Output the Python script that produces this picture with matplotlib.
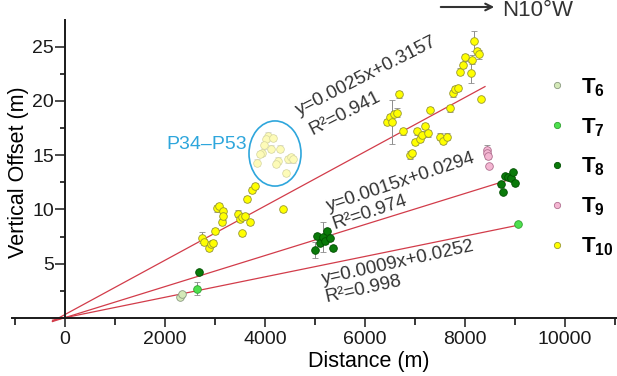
import numpy as np
import matplotlib.pyplot as plt
from matplotlib.lines import Line2D
from matplotlib.patches import Ellipse
from matplotlib.ticker import MultipleLocator

plt.rcParams['font.family'] = ['Liberation Sans', 'DejaVu Sans']
plt.rcParams['mathtext.fontset'] = 'custom'
plt.rcParams['mathtext.rm'] = 'Liberation Sans'
plt.rcParams['mathtext.bf'] = 'Liberation Sans:bold'

# datos: distancia (m), desnivel (m), error (m)
t6_x = [2300, 2340]
t6_y = [1.93, 2.2]
t6_e = [0.15, 0.15]

t7_x = [2640, 9060]
t7_y = [2.67, 8.66]
t7_e = [0.6, 0.2]

t8_x = [2680, 5000, 5040, 5100, 5160, 5200, 5240, 5300, 5360,
        8720, 8760, 8800, 8860, 8920, 8960, 9000]
t8_y = [4.2, 6.26, 7.55, 6.9, 7.45, 7.1, 8.0, 7.4, 6.45,
        12.3, 11.6, 13.1, 13.0, 12.9, 13.4, 12.4]
t8_e = [0.2, 0.7, 0.3, 0.3, 1.4, 0.3, 0.3, 0.3, 0.3,
        0.2, 0.2, 0.2, 0.2, 0.2, 0.2, 0.2]

t9_x = [8430, 8440, 8450, 8470]
t9_y = [15.5, 15.2, 14.9, 14.0]
t9_e = [0.4, 0.3, 0.3, 0.2]

t10_x = [2740, 2780, 2880, 2910, 2960, 3000, 3040, 3080, 3140, 3150, 3160,
         3460, 3500, 3540, 3540, 3600, 3640, 3700, 3740, 3800, 4360,
         6440, 6500, 6540, 6580, 6640, 6680, 6760, 6900, 6940, 7000, 7040,
         7100, 7140, 7200, 7260, 7300, 7500, 7560, 7640, 7700, 7760, 7800,
         7860, 7900, 7960, 8000, 8120, 8140, 8180, 8240, 8280, 8320]
t10_y = [7.4, 7.0, 6.45, 6.8, 6.9, 8.0, 10.1, 10.3, 8.85, 9.85, 9.35,
         9.6, 9.1, 9.3, 7.8, 9.4, 10.96, 8.85, 11.8, 12.15, 10.0,
         18.05, 18.5, 18.05, 18.8, 18.9, 20.6, 17.2, 15.0, 15.2, 16.2, 17.2,
         16.5, 16.9, 17.7, 17.0, 19.2, 16.7, 16.3, 16.7, 19.3, 20.7, 21.1,
         21.2, 22.7, 23.3, 24.0, 22.6, 23.8, 25.5, 24.6, 24.3, 20.2]
t10_e = [0.5, 0.3, 0.3, 0.25, 0.25, 0.3, 0.3, 0.3, 0.3, 0.3, 0.3,
         0.3, 0.3, 0.3, 0.25, 0.3, 0.25, 0.3, 0.3, 0.3, 0.2,
         0.3, 0.3, 2.0, 0.3, 0.4, 0.3, 0.3, 0.4, 0.3, 0.3, 0.3,
         0.3, 0.3, 0.3, 0.3, 0.2, 0.3, 0.3, 0.3, 0.3, 0.3, 0.3,
         0.3, 0.3, 0.3, 0.3, 1.0, 0.4, 0.9, 0.3, 0.4, 0.2]

# P34-P53 (dentro de la elipse)
p_x = [4060, 4020, 4160, 3980, 4120, 4300, 3940, 3900, 3840, 4260, 4220,
       4460, 4520, 4560, 4420]
p_y = [16.8, 16.5, 16.6, 15.9, 15.6, 15.6, 15.2, 15.1, 14.3, 14.5, 14.2,
       14.6, 14.8, 14.6, 13.35]
p_e = [0.3] * 15

# rectas ajustadas: pendiente, ordenada, x final
rectas_m = [0.0025, 0.00143, 0.00094]
rectas_c = [0.3157, 0.0294, 0.0252]
rectas_xfin = [8400, 9000, 9100]
rectas_eq = ["y=0.0025x+0.3157", "y=0.0015x+0.0294", "y=0.0009x+0.0252"]
rectas_r2 = ["R\u00b2=0.941", "R\u00b2=0.974", "R\u00b2=0.998"]

series = [
    ("$\\mathbf{T}_{\\mathbf{6}}$", t6_x, t6_y, t6_e, '#d4e9b8', '#8a9a80'),
    ("$\\mathbf{T}_{\\mathbf{7}}$", t7_x, t7_y, t7_e, '#4ee04e', '#30a030'),
    ("$\\mathbf{T}_{\\mathbf{8}}$", t8_x, t8_y, t8_e, '#0a7a0a', '#005000'),
    ("$\\mathbf{T}_{\\mathbf{9}}$", t9_x, t9_y, t9_e, '#f4b6d2', '#b07090'),
    ("$\\mathbf{T}_{\\mathbf{10}}$", t10_x, t10_y, t10_e, '#ffff00', '#9a9a30'),
]

fig = plt.figure(figsize=(6.17, 3.76), dpi=100)
ax = fig.add_axes([12/617, 1 - 325/376, 605/617, 305/376])

for m, c, xf in zip(rectas_m, rectas_c, rectas_xfin):
    xr = np.array([-250, xf])
    ax.plot(xr, m * xr + c, color='#d23c4a', lw=0.9, zorder=2)

ax.errorbar(p_x, p_y, yerr=p_e, fmt='o', ms=5.5, mfc='#fdfbb8', mec='#d6d6a0',
            mew=0.5, ecolor='#cfcfcf', elinewidth=0.7, capsize=2.5, zorder=3)

for nombre, xs, ys, es, fc, ec in series:
    ax.errorbar(xs, ys, yerr=es, fmt='o', ms=5.5, mfc=fc, mec=ec, mew=0.6,
                ecolor='#8c8c8c', elinewidth=0.7, capsize=2.5, zorder=4)

ell = Ellipse((4200, 15.15), 1040, 6.0, fill=False, ec='#2ea6dc', lw=1.2, zorder=5)
ax.add_patch(ell)
ax.text(3640, 16.0, "P34\u2013P53", color='#2ea6dc', fontsize=14,
        ha='right', va='center')

texto = dict(color='#333333', fontsize=13.5, ha='center', va='center',
             rotation_mode='anchor')
ax.text(6020, 22.3, rectas_eq[0], rotation=27, **texto)
ax.text(5600, 18.8, rectas_r2[0], rotation=27, **texto)
ax.text(6720, 12.5, rectas_eq[1], rotation=18.5, **texto)
ax.text(6100, 9.76, rectas_r2[1], rotation=18.5, **texto)
ax.text(6660, 5.06, rectas_eq[2], rotation=12.5, **texto)
ax.text(5960, 2.67, rectas_r2[2], rotation=12.5, **texto)

ax.set_xlim(-1060, 11040)
ax.set_ylim(-0.65, 27.45)
ax.spines['left'].set_position(('data', 0))
ax.spines['bottom'].set_position(('data', 0))
ax.spines['left'].set_bounds(0, 27.45)
ax.spines['top'].set_visible(False)
ax.spines['right'].set_visible(False)
for s in ('left', 'bottom'):
    ax.spines[s].set_linewidth(1.4)
    ax.spines[s].set_color('#1a1a1a')

ax.xaxis.set_major_locator(MultipleLocator(2000))
ax.xaxis.set_minor_locator(MultipleLocator(1000))
ax.set_yticks([5, 10, 15, 20, 25])
ax.yaxis.set_minor_locator(MultipleLocator(2.5))
ax.tick_params(axis='both', which='major', direction='out', width=1.1,
               labelsize=14, colors='#1a1a1a')
ax.tick_params(axis='x', which='major', length=6.5, pad=3)
ax.tick_params(axis='x', which='minor', length=5, width=1.1)
ax.tick_params(axis='y', which='major', length=7, pad=1)
ax.tick_params(axis='y', which='minor', length=3.5, width=1.1)

ax.set_xlabel("Distance (m)", fontsize=15.5)
ax.xaxis.set_label_coords((369 - 12) / 605, (325 - 351) / 305)
ax.set_ylabel("Vertical Offset (m)", fontsize=15.5, labelpad=2)

handles = [Line2D([], [], ls='none', marker='o', ms=4.5, mfc=fc, mec=ec, mew=0.6)
           for _, _, _, _, fc, ec in series]
labels = [s[0] for s in series]
ax.legend(handles, labels, loc='upper left', bbox_to_anchor=(548/617, 1 - 76/376),
          bbox_transform=fig.transFigure, frameon=False, fontsize=16,
          handlelength=0.8, handletextpad=0.7, labelspacing=0.78,
          borderaxespad=0, borderpad=0)

ax.annotate('', xy=(497/617, 1 - 7/376), xytext=(438/617, 1 - 7/376),
            xycoords='figure fraction',
            arrowprops=dict(arrowstyle='->', lw=1.5, color='#333333',
                            mutation_scale=12))
fig.text(502/617, 1 - 10/376, "N10\u00b0W", fontsize=16, color='#333333',
         ha='left', va='center')

fig.savefig('out.png', dpi=100)
